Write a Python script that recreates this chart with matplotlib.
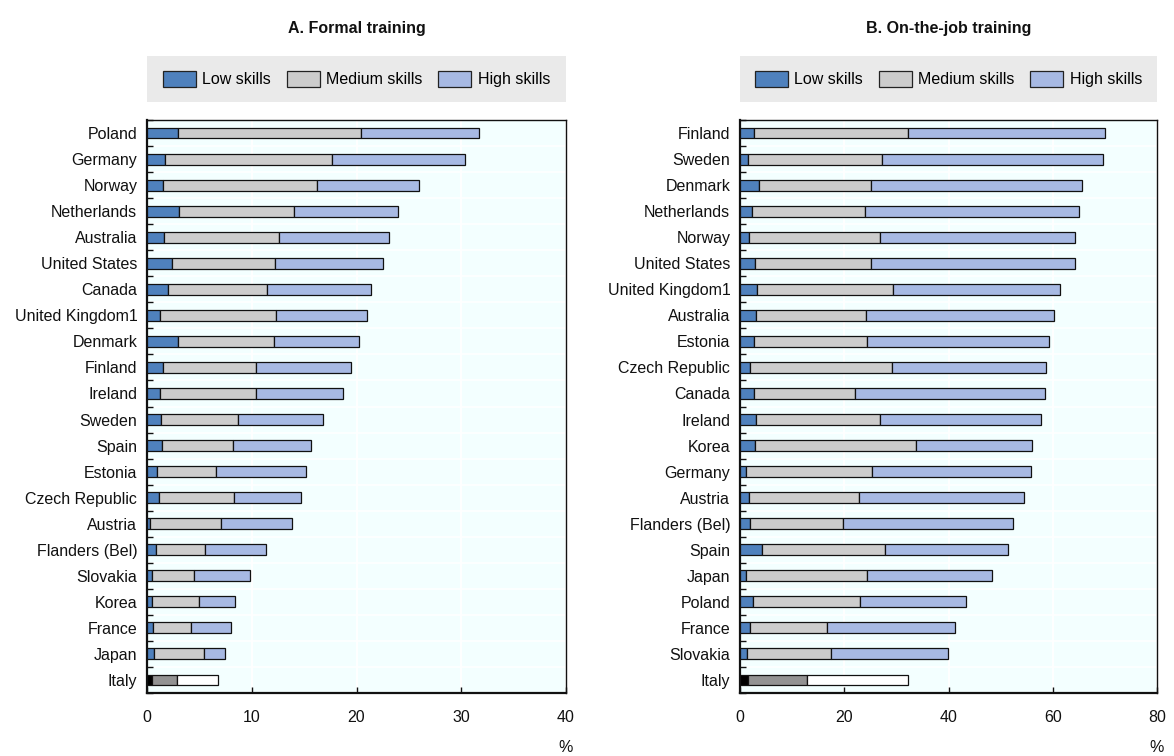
import matplotlib
matplotlib.use("Agg")
import matplotlib.pyplot as plt
from matplotlib.patches import Patch, Rectangle
import numpy as np

plt.rcParams['font.family'] = ['Liberation Sans', 'DejaVu Sans']

# Panel A: formal training, share of participants by skill level (%)
formal_countries = ["Poland", "Germany", "Norway", "Netherlands", "Australia",
                    "United States", "Canada", "United Kingdom1", "Denmark",
                    "Finland", "Ireland", "Sweden", "Spain", "Estonia",
                    "Czech Republic", "Austria", "Flanders (Bel)", "Slovakia",
                    "Korea", "France", "Japan", "Italy"]
# cumulative end points of each segment
formal_low = [3.0, 1.7, 1.5, 3.1, 1.6, 2.4, 2.0, 1.2, 3.0, 1.5, 1.2, 1.3, 1.4,
              1.0, 1.1, 0.25, 0.9, 0.5, 0.5, 0.6, 0.7, 0.5]
formal_med = [20.4, 17.7, 16.2, 14.0, 12.6, 12.2, 11.5, 12.3, 12.1, 10.4, 10.4,
              8.7, 8.2, 6.6, 8.3, 7.1, 5.5, 4.5, 5.0, 4.2, 5.4, 2.9]
formal_high = [31.7, 30.4, 26.0, 24.0, 23.1, 22.5, 21.4, 21.0, 20.2, 19.5, 18.7,
               16.8, 15.7, 15.2, 14.7, 13.8, 11.4, 9.8, 8.4, 8.0, 7.4, 6.8]

# Panel B: on-the-job training
otj_countries = ["Finland", "Sweden", "Denmark", "Netherlands", "Norway",
                 "United States", "United Kingdom1", "Australia", "Estonia",
                 "Czech Republic", "Canada", "Ireland", "Korea", "Germany",
                 "Austria", "Flanders (Bel)", "Spain", "Japan", "Poland",
                 "France", "Slovakia", "Italy"]
otj_low = [2.6, 1.5, 3.6, 2.3, 1.8, 2.9, 3.2, 3.1, 2.6, 2.0, 2.7, 3.0, 2.9, 1.1,
           1.7, 2.0, 4.3, 1.1, 2.4, 2.0, 1.3, 1.6]
otj_med = [32.3, 27.3, 25.2, 24.0, 26.9, 25.1, 29.4, 24.2, 24.3, 29.1, 22.0,
           26.8, 33.8, 25.3, 22.8, 19.8, 27.8, 24.3, 23.1, 16.6, 17.4, 12.9]
otj_high = [70.1, 69.7, 65.7, 65.0, 64.3, 64.3, 61.3, 60.2, 59.2, 58.7, 58.5,
            57.7, 56.1, 55.9, 54.5, 52.4, 51.5, 48.3, 43.4, 41.3, 39.9, 32.3]

series_names = ["Low skills", "Medium skills", "High skills"]
colors = ["#4F81BD", "#CCCCCC", "#A7B9E3"]
italy_colors = ["#000000", "#929292", "#FFFFFF"]

FS = 11.5
W, H = 1174, 756
fig = plt.figure(figsize=(W / 100, H / 100), dpi=100)


def px_axes(x0, x1, y0, y1):
    return fig.add_axes([x0 / W, 1 - y1 / H, (x1 - x0) / W, (y1 - y0) / H])


def draw_panel(ax, countries, low, med, high, xmax, step, title):
    n = len(countries)
    y = np.arange(n)
    low = np.array(low)
    med = np.array(med)
    high = np.array(high)
    starts = [np.zeros(n), low, med]
    widths = [low, med - low, high - med]
    for k in range(3):
        cols = [italy_colors[k] if c == "Italy" else colors[k] for c in countries]
        ax.barh(y, widths[k], left=starts[k], height=0.42, color=cols,
                edgecolor="#111111", linewidth=0.9, zorder=3)
    ax.set_facecolor("#F3FFFF")
    ax.set_ylim(n - 0.5, -0.5)
    ax.set_xlim(0, xmax)
    ax.set_yticks(y)
    ax.set_yticklabels(countries, fontsize=FS, color="#111111")
    ax.set_yticks(np.arange(n + 1) - 0.5, minor=True)
    ax.tick_params(axis="y", which="major", length=0, pad=7)
    ax.tick_params(axis="y", which="minor", direction="in", length=4.5,
                   width=1.0, color="#111111")
    ax.set_xticks(np.arange(0, xmax + 1, step))
    ax.tick_params(axis="x", which="major", direction="in", length=4.5,
                   width=1.0, pad=12, labelsize=FS, color="#111111",
                   labelcolor="#111111")
    ax.grid(axis="x", which="major", color="white", linewidth=1.4, zorder=0)
    ax.grid(axis="y", which="minor", color="white", linewidth=1.2, zorder=0)
    ax.set_axisbelow(True)
    for side in ["top", "right"]:
        ax.spines[side].set_linewidth(1.0)
    for side in ["left", "bottom"]:
        ax.spines[side].set_linewidth(1.6)
    for sp in ax.spines.values():
        sp.set_color("#111111")

    # title and legend band above the plot area
    ax.text(0.5, 1.16, title, transform=ax.transAxes, ha="center",
            va="center", fontsize=FS, fontweight="bold", color="#111111")
    band = Rectangle((0, 1.031), 1, 0.081, transform=ax.transAxes,
                     facecolor="#EAEAEA", edgecolor="none", clip_on=False)
    ax.add_patch(band)
    handles = [Patch(facecolor=c, edgecolor="#222222", linewidth=0.9)
               for c in colors]
    ax.legend(handles, series_names, loc="center",
              bbox_to_anchor=(0.5, 1.0715), ncol=3, frameon=False,
              fontsize=FS, handlelength=2.05, handleheight=1.2,
              handletextpad=0.4, columnspacing=1.0, borderpad=0.0)
    ax.text(1.0, -0.095, "%", transform=ax.transAxes, ha="center",
            va="center", fontsize=FS, color="#111111")


axA = px_axes(147, 566, 120, 693)
draw_panel(axA, formal_countries, formal_low, formal_med, formal_high, 40, 10,
           "A. Formal training")
axB = px_axes(740, 1157, 120, 693)
draw_panel(axB, otj_countries, otj_low, otj_med, otj_high, 80, 20,
           "B. On-the-job training")

fig.savefig("out.png", dpi=100)
